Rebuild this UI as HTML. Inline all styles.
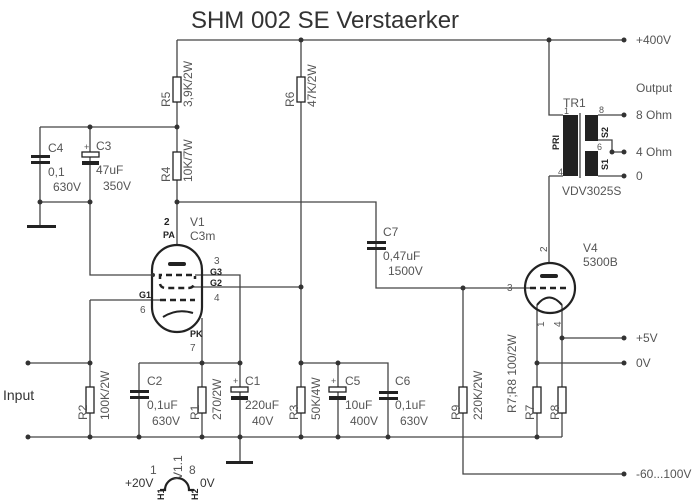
<!DOCTYPE html>
<html><head><meta charset="utf-8"><style>
html,body{margin:0;padding:0;background:#fff;}
svg{display:block;}
text{font-family:"Liberation Sans",sans-serif;fill:#555;font-size:12px;}
.s{font-size:9px;fill:#222;font-weight:bold;}
</style></head><body>
<svg width="700" height="502" viewBox="0 0 700 502" xmlns="http://www.w3.org/2000/svg">
<g stroke="#444" stroke-width="1.3" fill="none">
<path d="M177 40H624"/>
<path d="M177 40V202M301 40V437"/>
<path d="M40 127H177M40 127V226M90 127V275H153M40 202H90"/>
<path d="M177 202H376V288H530"/>
<path d="M463 288V474H624"/>
<path d="M549 40V115H563M549 176H563M549 176V262"/>
<path d="M598 115H624M598 176H624M590 140H612V152H624"/>
<path d="M537 305V437M562 305V437M562 338H624M537 363H624"/>
<path d="M177 202V245"/>
<path d="M195 275H240V437M193 287H301M90 300H160M90 300V437M202 318V437"/>
<path d="M28 363H90M139 363H240M139 363V437M301 363H388V437M338 363V437"/>
<path d="M28 437H562"/>
<path d="M240 437V462"/>
<path d="M152 270A25 25 0 0 1 202 270V307A25 25 0 0 1 152 307Z" stroke="#222" stroke-width="2.2"/>
<path d="M160 279V275H195V279" stroke="#222" stroke-width="2.5" stroke-dasharray="6 4"/>
<path d="M160 284Q161 288 166 288H188Q193 288 194 284" stroke="#222" stroke-width="2.5" stroke-dasharray="6 4"/>
<path d="M160 300H195" stroke="#222" stroke-width="2.5" stroke-dasharray="6 4"/>
<path d="M163 317Q177 308 193 313" stroke="#222" stroke-width="2"/>
<circle cx="550" cy="288" r="25" stroke="#222" stroke-width="2.2"/>
<path d="M530 288H570" stroke="#222" stroke-width="2.5" stroke-dasharray="6 4"/>
<path d="M537 305Q549 290 562 305" stroke="#222" stroke-width="2"/>
<path d="M160 490H165A12 12 0 0 1 189 490H194" stroke="#222" stroke-width="2.2"/>
<path d="M580 113V178"/>
</g>
<g fill="#222">
<rect x="168" y="262" width="18" height="4" rx="2"/>
<rect x="540" y="274" width="18" height="4" rx="2"/>
<rect x="563" y="115" width="15" height="61"/>
<rect x="585" y="115" width="13" height="26"/>
<rect x="585" y="151" width="13" height="25"/>
<rect x="27" y="225" width="29" height="3"/>
<rect x="226" y="461" width="27" height="3"/>
<rect x="31" y="155" width="19" height="3"/><rect x="31" y="161" width="19" height="3"/>
<rect x="82" y="161" width="17" height="4"/>
<rect x="130" y="390" width="19" height="3"/><rect x="130" y="396" width="19" height="3"/>
<rect x="367" y="241" width="19" height="3"/><rect x="367" y="247" width="19" height="3"/>
<rect x="379" y="391" width="19" height="3"/><rect x="379" y="397" width="19" height="3"/>
<rect x="231" y="396" width="17" height="4"/>
<rect x="329" y="396" width="17" height="4"/>
</g>
<g fill="#fff" stroke="#222" stroke-width="1.3">
<rect x="82" y="152" width="17" height="5"/>
<rect x="231" y="387" width="17" height="5"/>
<rect x="329" y="387" width="17" height="5"/>
<rect x="173" y="77" width="8" height="25"/>
<rect x="297" y="77" width="8" height="25"/>
<rect x="173" y="152" width="8" height="28"/>
<rect x="86" y="387" width="8" height="26"/>
<rect x="198" y="387" width="8" height="26"/>
<rect x="297" y="387" width="8" height="26"/>
<rect x="459" y="387" width="8" height="26"/>
<rect x="533" y="387" width="8" height="26"/>
<rect x="558" y="387" width="8" height="26"/>
</g>
<g fill="#333">
<circle cx="301" cy="40" r="2.5"/><circle cx="549" cy="40" r="2.5"/><circle cx="624" cy="40" r="2.5"/>
<circle cx="177" cy="127" r="2.5"/><circle cx="90" cy="127" r="2.5"/>
<circle cx="40" cy="202" r="2.5"/><circle cx="90" cy="202" r="2.5"/><circle cx="177" cy="202" r="2.5"/>
<circle cx="624" cy="115" r="2.5"/><circle cx="624" cy="152" r="2.5"/><circle cx="612" cy="152" r="2.5"/><circle cx="624" cy="176" r="2.5"/>
<circle cx="153" cy="275" r="2"/><circle cx="301" cy="287" r="2.5"/><circle cx="463" cy="288" r="2.5"/>
<circle cx="562" cy="338" r="2.5"/><circle cx="624" cy="338" r="2.5"/><circle cx="537" cy="363" r="2.5"/><circle cx="624" cy="363" r="2.5"/>
<circle cx="28" cy="363" r="2.5"/><circle cx="90" cy="363" r="2.5"/><circle cx="202" cy="363" r="2.5"/><circle cx="240" cy="363" r="2.5"/><circle cx="301" cy="363" r="2.5"/><circle cx="338" cy="363" r="2.5"/>
<circle cx="28" cy="437" r="2.5"/><circle cx="90" cy="437" r="2.5"/><circle cx="139" cy="437" r="2.5"/><circle cx="202" cy="437" r="2.5"/><circle cx="240" cy="437" r="2.5"/><circle cx="301" cy="437" r="2.5"/><circle cx="338" cy="437" r="2.5"/><circle cx="388" cy="437" r="2.5"/><circle cx="537" cy="437" r="2.5"/>
<circle cx="624" cy="474" r="2.5"/>
</g>
<text x="325" y="28" text-anchor="middle" style="font-size:24px;fill:#333">SHM 002 SE Verstaerker</text>
<text x="636" y="44">+400V</text>
<text x="636" y="92">Output</text>
<text x="636" y="119">8 Ohm</text>
<text x="636" y="156">4 Ohm</text>
<text x="636" y="180">0</text>
<text x="636" y="342">+5V</text>
<text x="636" y="367">0V</text>
<text x="636" y="478">-60...100V</text>
<text x="3" y="400" style="font-size:14px;fill:#333">Input</text>
<text x="563" y="107">TR1</text>
<text x="562" y="195">VDV3025S</text>
<text x="564" y="114" style="font-size:9px">1</text><text x="599" y="113" style="font-size:9px">8</text>
<text x="558" y="175" style="font-size:9px">4</text><text x="597" y="150" style="font-size:9px">6</text>
<text class="s" transform="translate(559,150) rotate(-90)">PRI</text>
<text class="s" transform="translate(608,138) rotate(-90)">S2</text>
<text class="s" transform="translate(608,170) rotate(-90)">S1</text>
<text x="48" y="152">C4</text><text x="48" y="176">0,1</text><text x="53" y="191">630V</text>
<text x="96" y="150">C3</text><text x="96" y="174">47uF</text><text x="103" y="190">350V</text>
<text x="84" y="150" style="font-size:9px">+</text>
<text transform="translate(170,107) rotate(-90)">R5</text>
<text transform="translate(192,107) rotate(-90)">3,9K/2W</text>
<text transform="translate(294,107) rotate(-90)">R6</text>
<text transform="translate(316,107) rotate(-90)">47K/2W</text>
<text transform="translate(170,182) rotate(-90)">R4</text>
<text transform="translate(192,182) rotate(-90)">10K/7W</text>
<text x="164" y="225" class="s" style="font-size:10px">2</text><text x="163" y="238" class="s">PA</text>
<text x="190" y="226">V1</text><text x="190" y="240">C3m</text>
<text x="214" y="264" style="font-size:10px">3</text><text x="210" y="275" class="s">G3</text>
<text x="210" y="286" class="s">G2</text><text x="214" y="301" style="font-size:10px">4</text>
<text x="139" y="298" class="s">G1</text><text x="140" y="313" style="font-size:10px">6</text>
<text x="190" y="337" class="s">PK</text><text x="190" y="351" style="font-size:10px">7</text>
<text x="383" y="236">C7</text><text x="383" y="260">0,47uF</text><text x="388" y="275">1500V</text>
<text x="507" y="291" style="font-size:10px">3</text>
<text x="583" y="252">V4</text><text x="583" y="266">5300B</text>
<text transform="translate(547,252) rotate(-90)" style="font-size:10px">2</text>
<text transform="translate(544,327) rotate(-90)" style="font-size:10px">1</text>
<text transform="translate(561,327) rotate(-90)" style="font-size:10px">4</text>
<text x="147" y="385">C2</text><text x="147" y="409">0,1uF</text><text x="152" y="425">630V</text>
<text x="245" y="385">C1</text><text x="245" y="409">220uF</text><text x="252" y="425">40V</text>
<text x="233" y="384" style="font-size:9px">+</text>
<text x="345" y="385">C5</text><text x="345" y="409">10uF</text><text x="350" y="425">400V</text>
<text x="331" y="384" style="font-size:9px">+</text>
<text x="395" y="385">C6</text><text x="395" y="409">0,1uF</text><text x="400" y="425">630V</text>
<text transform="translate(87,420) rotate(-90)">R2</text>
<text transform="translate(109,420) rotate(-90)">100K/2W</text>
<text transform="translate(199,420) rotate(-90)">R1</text>
<text transform="translate(221,420) rotate(-90)">270/2W</text>
<text transform="translate(298,420) rotate(-90)">R3</text>
<text transform="translate(320,420) rotate(-90)">50K/4W</text>
<text transform="translate(460,420) rotate(-90)">R9</text>
<text transform="translate(482,420) rotate(-90)">220K/2W</text>
<text transform="translate(534,420) rotate(-90)">R7</text>
<text transform="translate(559,420) rotate(-90)">R8</text>
<text transform="translate(516,413) rotate(-90)">R7;R8 100/2W</text>
<text transform="translate(182,480) rotate(-90)">V1.1</text>
<text x="150" y="474">1</text><text x="189" y="474">8</text>
<text x="125" y="487" style="fill:#333">+20V</text><text x="200" y="487" style="fill:#333">0V</text>
<text transform="translate(164,500) rotate(-90)" class="s">H1</text>
<text transform="translate(198,500) rotate(-90)" class="s">H2</text>
</svg>
</body></html>
